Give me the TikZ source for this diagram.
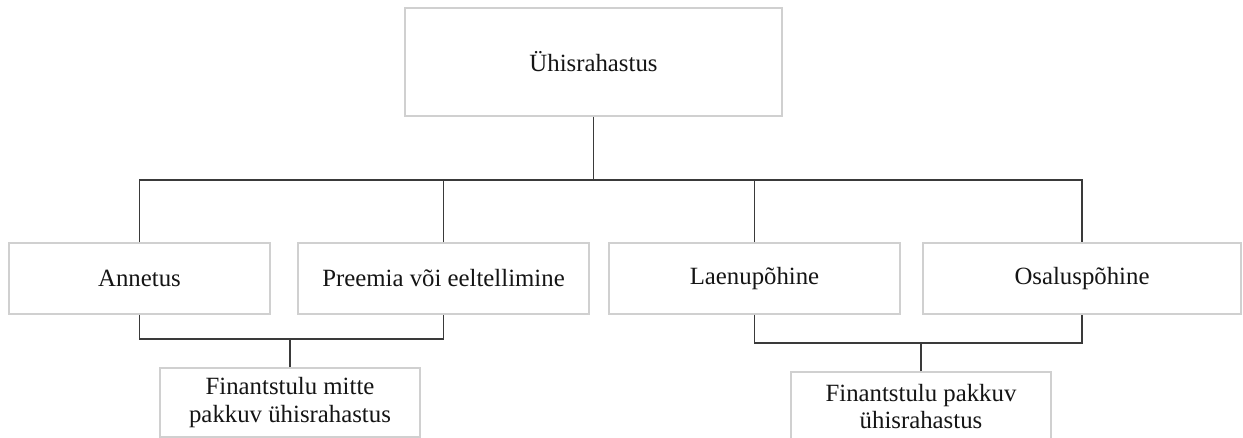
\documentclass[tikz,border=0pt]{standalone}
\usepackage{fontspec}
\setmainfont{Liberation Serif}
\definecolor{boxgray}{HTML}{D0D0D0}
\definecolor{linegray}{HTML}{3A3A3A}
\definecolor{txt}{HTML}{151515}
\begin{document}
\begin{tikzpicture}[x=1pt,y=-1pt,
  box/.style={draw=boxgray, line width=1.3pt, fill=white, text=txt,
    inner sep=0pt, align=center, font=\fontsize{24.8}{27.5}\selectfont},
  conn/.style={draw=linegray, line width=1.6pt}]
\path[use as bounding box] (0,0) rectangle (1243,438);
\clip (0,0) rectangle (1243,438);
\fill[white] (0,0) rectangle (1243,438);
\node[box, minimum width=377pt, minimum height=108pt] (top) at (593.5,62) {Ühisrahastus};
\node[box, minimum width=261pt, minimum height=71pt] (ann) at (139.5,278.5) {Annetus};
\node[box, minimum width=291pt, minimum height=71pt] (pre) at (443.5,278.5) {Preemia või eeltellimine};
\node[box, minimum width=291pt, minimum height=71pt] (lae) at (754.5,278.5) {Laenupõhine};
\node[box, minimum width=318pt, minimum height=71pt] (osa) at (1082,278.5) {Osaluspõhine};
\node[box, minimum width=260pt, minimum height=69pt] (fin1) at (290,402.5) {Finantstulu mitte\\pakkuv ühisrahastus};
\node[box, minimum width=260pt, minimum height=69pt] (fin2) at (921,406.5) {Finantstulu pakkuv\\ühisrahastus};
\coordinate (bus) at (593.5,180);
\coordinate (busL) at (290,339);
\coordinate (busR) at (921,343);
\draw[conn] (top.south) -- (bus);
\draw[conn] (ann.north) |- (osa.north |- bus) -- (osa.north);
\draw[conn] (pre.north) -- (pre.north |- bus);
\draw[conn] (lae.north) -- (lae.north |- bus);
\draw[conn] (ann.south) |- (pre.south |- busL) -- (pre.south);
\draw[conn] (fin1.north) -- (busL);
\draw[conn] (lae.south) |- (osa.south |- busR) -- (osa.south);
\draw[conn] (fin2.north) -- (busR);
\end{tikzpicture}
\end{document}
